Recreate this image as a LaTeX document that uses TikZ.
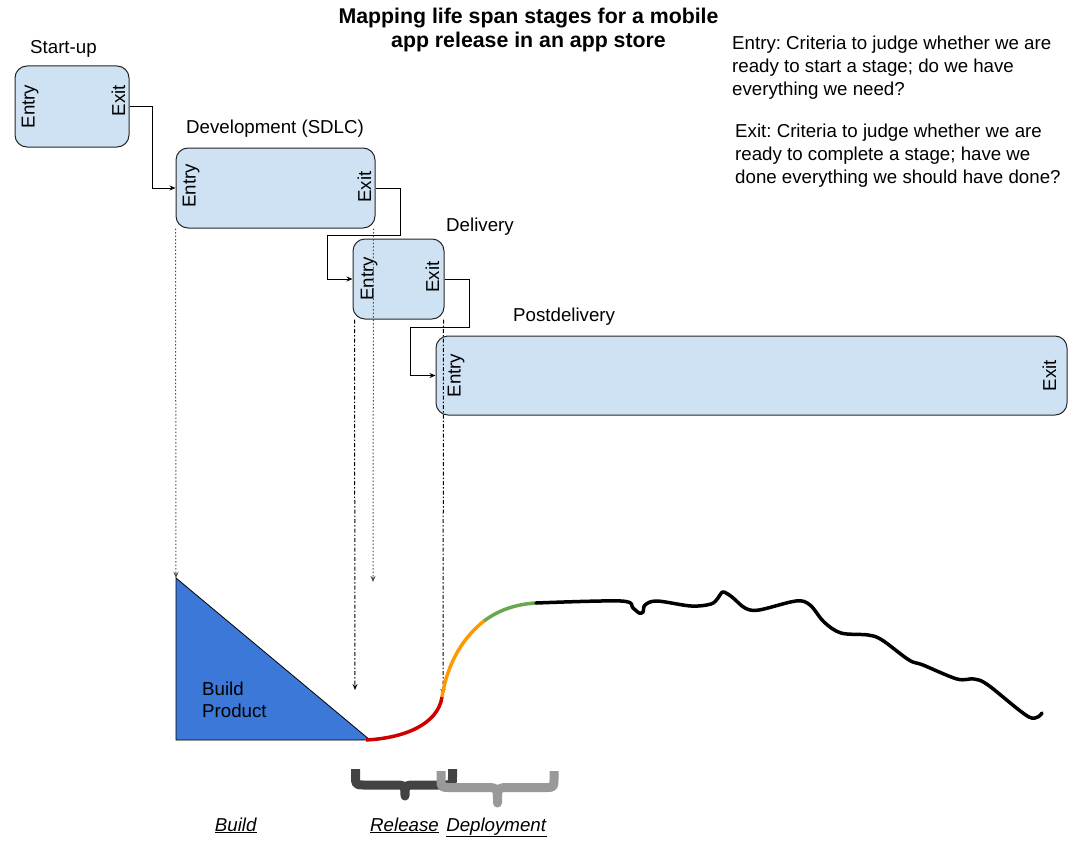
\documentclass[tikz,border=0pt]{standalone}
\usepackage{fontspec}
\setmainfont{Liberation Sans}
\usetikzlibrary{arrows.meta,positioning,calc}

\definecolor{stagefill}{HTML}{CFE2F3}
\definecolor{buildblue}{HTML}{3C78D8}
\definecolor{relred}{HTML}{CC0000}
\definecolor{deporange}{HTML}{FF9900}
\definecolor{depgreen}{HTML}{6AA84F}
\definecolor{bracedark}{HTML}{434343}
\definecolor{bracelight}{HTML}{999999}

\tikzset{
  txt/.style={font=\fontsize{18.7}{22.7}\selectfont, inner sep=0pt},
  stage/.style={draw=black!85, fill=stagefill, rounded corners=12pt, line width=1pt, inner sep=0pt},
  gate/.style={txt, rotate=90, inner sep=2pt},
  conn/.style={line width=1pt, -{Stealth[length=6pt,width=5pt]}},
  drop/.style={line width=1pt, -{Stealth[length=6pt,width=5pt]}},
  curve/.style={line width=3.5pt},
  bracket/.style={line width=9pt, line join=round},
}

\begin{document}
\frenchspacing
\begin{tikzpicture}[x=1pt, y=-1pt]
    \useasboundingbox (0,0) rectangle (1075,840);

    % title and notes
    \node[font=\bfseries\fontsize{21.3}{24}\selectfont, inner sep=0pt, align=center, anchor=north] (title) at (528.5,8)
        {Mapping life span stages for a mobile\\app release in an app store};
    \node[txt, anchor=north west, align=left] (entrynote) at (732,36)
        {Entry: Criteria to judge whether we are\\ready to start a stage; do we have\\everything we need?};
    \node[txt, anchor=north west, align=left] (exitnote) at (735,124)
        {Exit: Criteria to judge whether we are\\ready to complete a stage; have we\\done everything we should have done?};

    % stages
    \node[stage, minimum width=114pt, minimum height=81pt] (startup) at (72,106.5) {};
    \node[stage, minimum width=199pt, minimum height=80pt] (dev) at (275.5,188) {};
    \node[stage, minimum width=91pt, minimum height=80pt] (delivery) at (398.5,279) {};
    \node[stage, minimum width=631pt, minimum height=79pt] (post) at (751.5,375.5) {};

    \node[txt, anchor=base west] (startuplabel) at (30,54) {Start-up};
    \node[txt, anchor=base west] (devlabel) at (186,133) {Development (SDLC)};
    \node[txt, anchor=base west] (deliverylabel) at (446,231) {Delivery};
    \node[txt, anchor=base west] (postlabel) at (513,321) {Postdelivery};

    \node[gate, anchor=north] at ($(startup.west)+(5,0)$) {Entry};
    \node[gate, anchor=south] at ($(startup.east)+(-2,-6)$) {Exit};
    \node[gate, anchor=north] at ($(dev.west)+(5,-2)$) {Entry};
    \node[gate, anchor=south] at ($(dev.east)+(-2,-1)$) {Exit};
    \node[gate, anchor=north] at ($(delivery.west)+(6,0)$) {Entry};
    \node[gate, anchor=south] at ($(delivery.east)+(-3,-2)$) {Exit};
    \node[gate, anchor=north] at ($(post.west)+(10,0)$) {Entry};
    \node[gate, anchor=south] at ($(post.east)+(-9,0)$) {Exit};

    % hand-over between stages
    \draw[conn] (startup.east) -- ++(23,0) |- (dev.west);
    \draw[conn] (dev.east) -- ++(25,0) -- ++(0,47) -| ($(delivery.west)+(-25,0)$) -- (delivery.west);
    \draw[conn] (delivery.east) -- ++(25,0) -- ++(0,48) -| ($(post.west)+(-25,0)$) -- (post.west);

    % build triangle
    \coordinate (apex) at (176,578);
    \coordinate (corner) at (176,740);
    \coordinate (shipped) at (370,740);
    \draw[fill=buildblue, line width=0.8pt] (apex) -- (corner) -- (shipped) -- cycle;
    \node[txt, anchor=north west, align=left] (buildtext) at (202,681.5) {Build\\Product};

    % drop lines
    \coordinate (devend) at (373,582);
    \coordinate (delstart) at (355,690);
    \coordinate (delend) at (443,695);
    \draw[drop, black!70, dash pattern=on 1.5pt off 2pt] (dev.south west) -- (apex);
    \draw[drop, black!70, dash pattern=on 1.5pt off 2pt] ($(dev.south east)+(-2,0)$) -- (devend);
    \draw[drop, dash pattern=on 4pt off 2pt on 1.5pt off 2pt] ($(delivery.south west)+(2,0)$) -- (delstart);
    \draw[drop, dash pattern=on 4pt off 2pt on 1.5pt off 2pt] ($(delivery.south east)+(-1,0)$) -- (delend);

    % life span curve
    \coordinate (relstart) at (366,740);
    \coordinate (relend) at (442,697);
    \coordinate (ramp) at (484,621);
    \coordinate (plateau) at (536,603);
    \draw[curve, relred] (relstart) .. controls (405,738) and (438,724) .. (relend);
    \draw[curve, deporange] (relend) .. controls (448,660) and (465,636) .. (ramp);
    \draw[curve, depgreen] (ramp) .. controls (500,609) and (518,604) .. (plateau);
    \draw[curve, line cap=round] plot[smooth, tension=0.55] coordinates {
        (536,603) (621,601) (633,608) (639,613) (643,612) (645,605) (657,601)
        (691,606) (711,604) (718,598) (723,592) (732,597) (745,608) (759,610)
        (796,601) (810,605) (824,622) (841,633) (868,635) (882,640) (909,660)
        (923,665) (957,679) (974,679) (988,685) (1029,717) (1042,713)};

    % phases
    \draw[bracket, bracedark] (355.5,769) -- (355.5,776) .. controls (355.5,785) .. (365,785) -- (393,785)
        .. controls (405,785) .. (405,796) .. controls (405,785) .. (417,785) -- (443,785)
        .. controls (452.5,785) .. (452.5,776) -- (452.5,769);
    \draw[bracket, bracelight] (441,771) -- (441,779) .. controls (441,787.5) .. (450,787.5) -- (485,787.5)
        .. controls (497.5,787.5) .. (497.5,803) .. controls (497.5,787.5) .. (510,787.5) -- (545,787.5)
        .. controls (554,787.5) .. (554,779) -- (554,771);
    \node[txt, anchor=base] (buildphase) at (236,831) {\underline{\textit{Build}}};
    \node[txt, anchor=base] (releasephase) at (404.5,831) {\underline{\textit{Release}}};
    \node[txt, anchor=base] (deployphase) at (496.5,831) {\underline{\textit{Deployment}}};
\end{tikzpicture}
\end{document}
